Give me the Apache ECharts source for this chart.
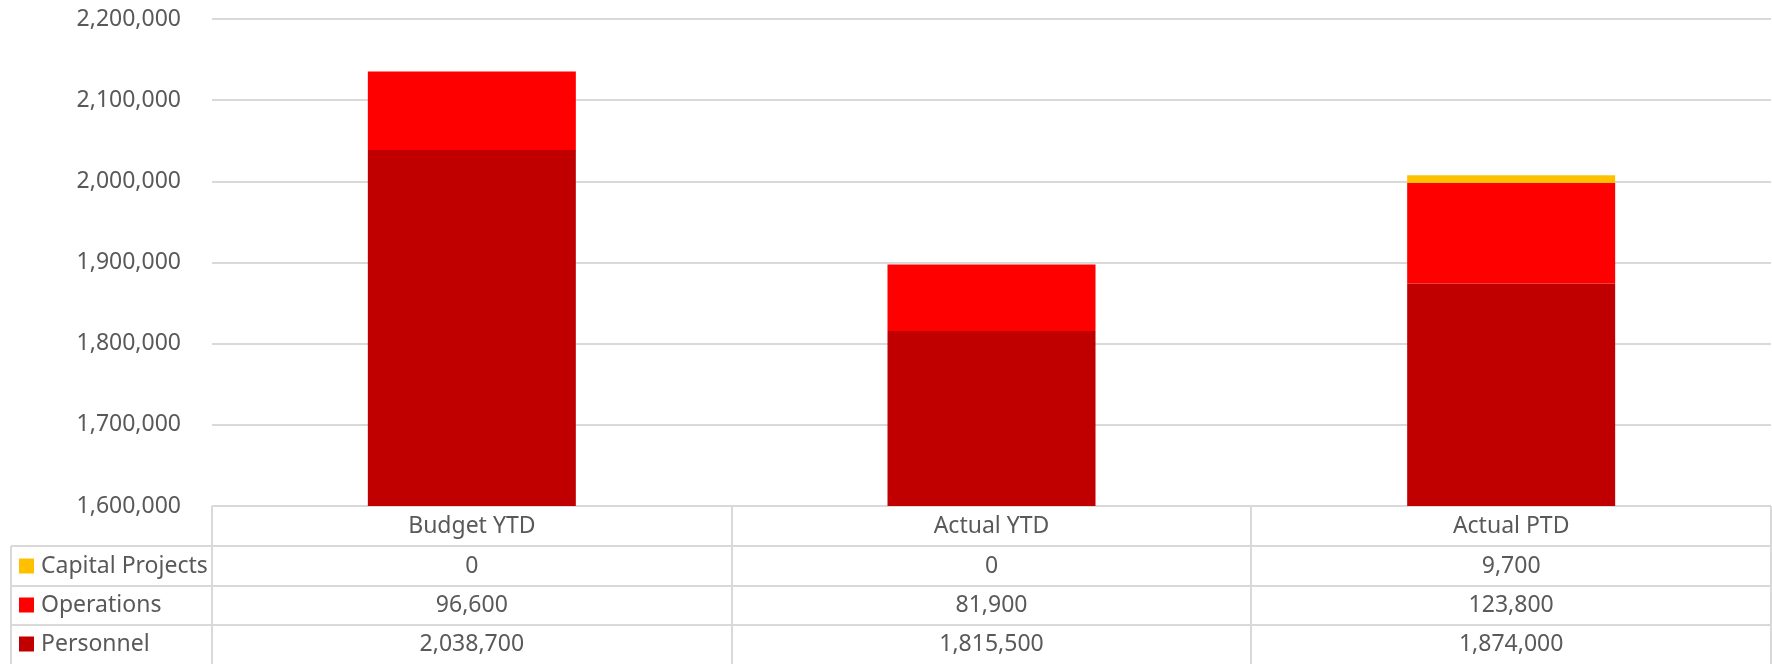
<!DOCTYPE html>
<html>
<head>
<meta charset="utf-8">
<script src="https://cdn.jsdelivr.net/npm/echarts@6/dist/echarts.min.js"></script>
<style>
html,body{margin:0;padding:0;background:#fff;}
#c{width:1772px;height:664px;}
</style>
</head>
<body>
<div id="c"></div>
<script>
var categories = ['Budget YTD', 'Actual YTD', 'Actual PTD'];
var personnel = [2038700, 1815500, 1874000];
var operations = [96600, 81900, 123800];
var capitalProjects = [0, 0, 9700];
var yMin = 1600000, yMax = 2200000, yStep = 100000;

var FONT = '"Noto Sans", sans-serif';
var TXT = '#595959';
var LINE = '#d9d9d9';
function fmt(v){ return Number(v).toLocaleString('en-US'); }

var gridL = 212, gridR = 1771, gridT = 19, gridB = 506;
var rowY = [506, 546, 586, 625, 664];
var colX = [212, 732, 1251, 1771];

function tableAxis(data, center){
  return {
    type: 'category', data: data.map(fmt), position: 'bottom', gridIndex: 0,
    axisLine: {show: false}, axisTick: {show: false}, splitLine: {show: false},
    axisLabel: {color: TXT, fontFamily: FONT, fontSize: 23, margin: center - gridB, verticalAlign: 'middle', interval: 0}
  };
}
function legendRow(name, center){
  return {
    orient: 'horizontal', left: 19, top: center - 12, itemWidth: 15, itemHeight: 15, itemGap: 0,
    icon: 'rect', selectedMode: false, data: [name], padding: 0,
    textStyle: {color: TXT, fontFamily: FONT, fontSize: 23, lineHeight: 24, padding: [0, 0, 0, 2]}
  };
}

var graphics = [];
function hline(y, x1, x2){ graphics.push({type:'line', shape:{x1:x1,y1:y,x2:x2,y2:y}, style:{stroke:LINE, lineWidth:2}, silent:true}); }
function vline(x, y1, y2){ graphics.push({type:'line', shape:{x1:x,y1:y1,x2:x,y2:y2}, style:{stroke:LINE, lineWidth:2}, silent:true}); }
hline(rowY[1], 11, gridR); hline(rowY[2], 11, gridR); hline(rowY[3], 11, gridR);
colX.forEach(function(x){ vline(x, rowY[0], 664); });
vline(11, rowY[1], 664);

var chart = echarts.init(document.getElementById('c'));
chart.setOption({
  animation: false,
  backgroundColor: '#fff',
  grid: {left: gridL, right: 1772 - gridR, top: gridT, bottom: 664 - gridB, containLabel: false},
  legend: [
    legendRow('Capital Projects', 566),
    legendRow('Operations', 605),
    legendRow('Personnel', 644)
  ],
  xAxis: [
    {
      type: 'category', data: categories,
      axisLine: {show: false}, axisTick: {show: false},
      axisLabel: {color: TXT, fontFamily: FONT, fontSize: 23, margin: 20, verticalAlign: 'middle', interval: 0}
    },
    tableAxis(capitalProjects, 566),
    tableAxis(operations, 605),
    tableAxis(personnel, 644)
  ],
  yAxis: {
    type: 'value', min: yMin, max: yMax, interval: yStep,
    axisLine: {show: false}, axisTick: {show: false},
    splitLine: {lineStyle: {color: LINE, width: 2}},
    axisLabel: {color: TXT, fontFamily: FONT, fontSize: 23, margin: 31, formatter: fmt}
  },
  series: [
    {name: 'Personnel', type: 'bar', stack: 'a', data: personnel, barWidth: 208, itemStyle: {color: '#c00000'}},
    {name: 'Operations', type: 'bar', stack: 'a', data: operations, barWidth: 208, itemStyle: {color: '#ff0000'}},
    {name: 'Capital Projects', type: 'bar', stack: 'a', data: capitalProjects, barWidth: 208, itemStyle: {color: '#ffc000'}}
  ],
  graphic: graphics
});
</script>
</body>
</html>
